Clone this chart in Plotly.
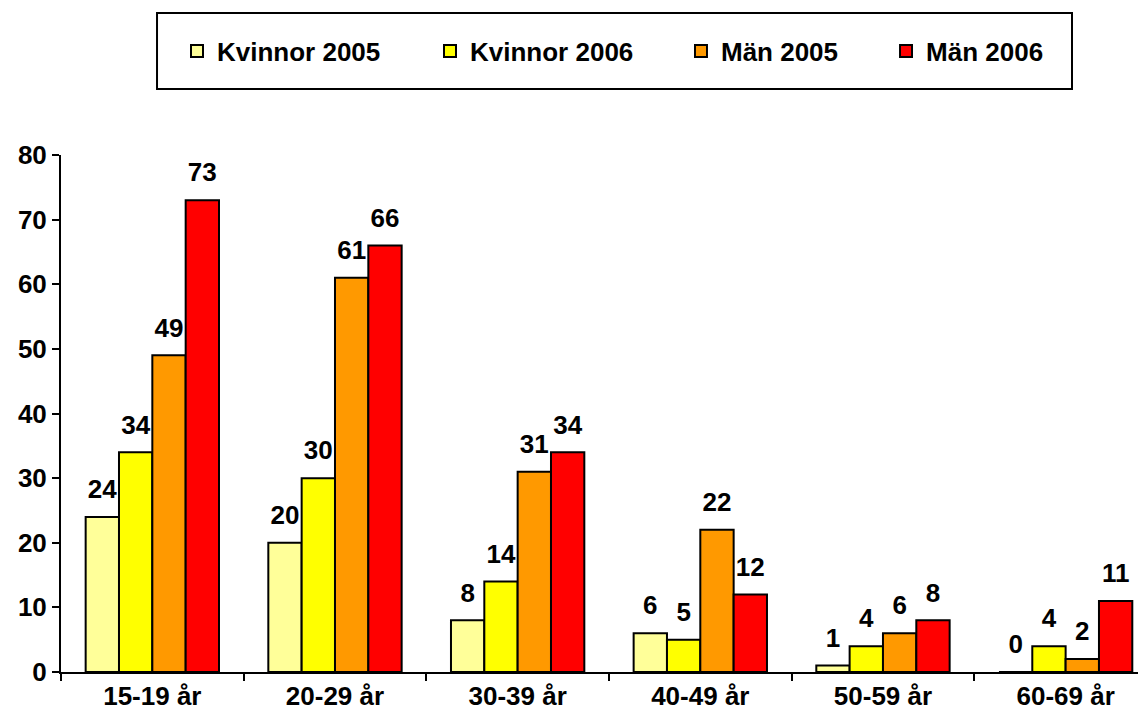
import plotly.graph_objects as go

# Data
age_groups = ["15-19 år", "20-29 år", "30-39 år", "40-49 år", "50-59 år", "60-69 år"]
kvinnor_2005 = [24, 20, 8, 6, 1, 0]
kvinnor_2006 = [34, 30, 14, 5, 4, 4]
man_2005 = [49, 61, 31, 22, 6, 2]
man_2006 = [73, 66, 34, 12, 8, 11]

series = [
    ("Kvinnor 2005", kvinnor_2005, "#FFFF99"),
    ("Kvinnor 2006", kvinnor_2006, "#FFFF00"),
    ("Män 2005", man_2005, "#FF9900"),
    ("Män 2006", man_2006, "#FF0000"),
]
legend_ids = ["legend", "legend2", "legend3", "legend4"]
legend_x = [0.1069, 0.3401, 0.5714, 0.7604]

font_family = "Liberation Sans, Arial, sans-serif"
bold = dict(family=font_family, size=26, color="black", weight="bold")

fig = go.Figure()
for (name, vals, color), lg in zip(series, legend_ids):
    fig.add_trace(go.Bar(
        x=age_groups,
        y=vals,
        name=name,
        legend=lg,
        marker=dict(color=color, line=dict(color="black", width=2)),
    ))
# value labels, grouped like the bars so they sit over each bar
for name, vals, color in series:
    fig.add_trace(go.Scatter(
        x=age_groups,
        y=vals,
        mode="text+markers",
        marker=dict(size=18, opacity=0),
        text=vals,
        textposition="top center",
        textfont=bold,
        showlegend=False,
        hoverinfo="skip",
        cliponaxis=False,
    ))

legends = {}
for lg, lx in zip(legend_ids, legend_x):
    legends[lg] = dict(
        orientation="h",
        x=lx, y=1.201, xanchor="left", yanchor="middle",
        borderwidth=0, itemwidth=30,
        font=bold,
        bgcolor="rgba(0,0,0,0)",
    )

# page body has an 8px margin, so the figure is 8px smaller than the window
fig.update_layout(
    width=1138, height=712,
    barmode="group",
    bargap=0.27,
    bargroupgap=0,
    scattermode="group",
    scattergap=0.27,
    plot_bgcolor="white",
    paper_bgcolor="white",
    margin=dict(l=53, r=0, t=147, b=48),
    font=bold,
    showlegend=True,
    shapes=[dict(
        type="rect", xref="paper", yref="paper",
        x0=0.0885, x1=0.9318, y0=1.1277, y1=1.2747,
        line=dict(color="black", width=2),
        fillcolor="white", layer="below",
    )],
    **legends,
)

fig.update_xaxes(
    range=[-0.5, 5.44],
    showline=True, linecolor="black", linewidth=2,
    ticks="outside", ticklen=7, tickwidth=2, tickcolor="black",
    tickson="boundaries",
    showgrid=False, zeroline=False, automargin=False,
    tickfont=bold,
)
fig.update_yaxes(
    range=[0, 80], dtick=10,
    showline=True, linecolor="black", linewidth=2,
    ticks="outside", ticklen=7, tickwidth=2, tickcolor="black",
    showgrid=False, zeroline=False, automargin=False,
    tickfont=bold,
)

fig.write_html("out.html")
